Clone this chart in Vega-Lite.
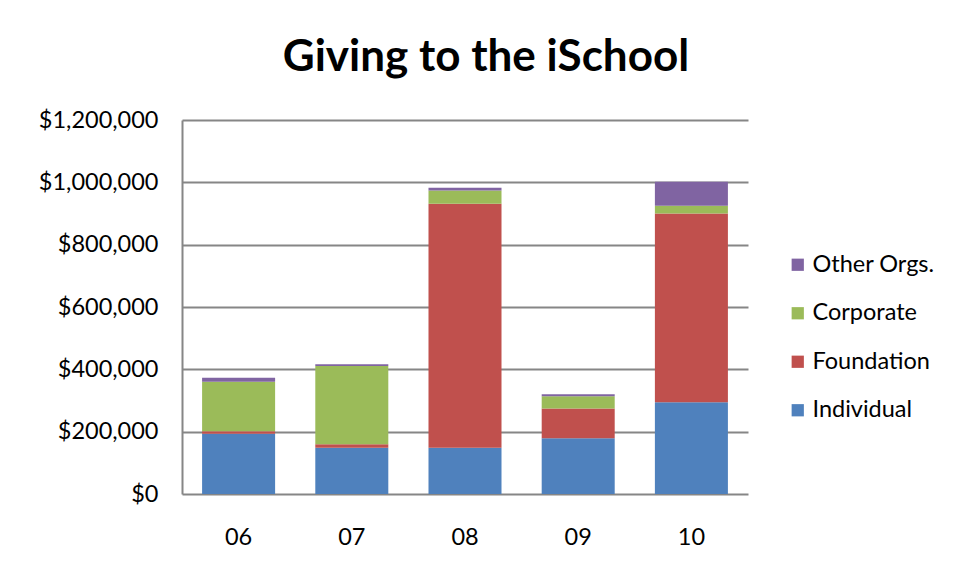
{
  "$schema": "https://vega.github.io/schema/vega-lite/v6.json",
  "width": 566,
  "height": 374,
  "autosize": {"type": "none"},
  "padding": {"left": 182, "top": 120, "right": 207, "bottom": 83},
  "background": "white",
  "title": {
    "text": "Giving to the iSchool",
    "font": "Lato",
    "fontSize": 44,
    "fontWeight": "bold",
    "color": "black",
    "anchor": "middle",
    "dx": 21,
    "offset": 28
  },
  "data": {
    "values": [
      {"year": "06", "type": "Individual", "ord": 1, "amount": 193000},
      {"year": "06", "type": "Foundation", "ord": 2, "amount": 8000},
      {"year": "06", "type": "Corporate", "ord": 3, "amount": 159000},
      {"year": "06", "type": "Other Orgs.", "ord": 4, "amount": 13000},
      {"year": "07", "type": "Individual", "ord": 1, "amount": 148000},
      {"year": "07", "type": "Foundation", "ord": 2, "amount": 12000},
      {"year": "07", "type": "Corporate", "ord": 3, "amount": 251000},
      {"year": "07", "type": "Other Orgs.", "ord": 4, "amount": 5000},
      {"year": "08", "type": "Individual", "ord": 1, "amount": 148000},
      {"year": "08", "type": "Foundation", "ord": 2, "amount": 783000},
      {"year": "08", "type": "Corporate", "ord": 3, "amount": 43000},
      {"year": "08", "type": "Other Orgs.", "ord": 4, "amount": 9000},
      {"year": "09", "type": "Individual", "ord": 1, "amount": 179000},
      {"year": "09", "type": "Foundation", "ord": 2, "amount": 95000},
      {"year": "09", "type": "Corporate", "ord": 3, "amount": 40000},
      {"year": "09", "type": "Other Orgs.", "ord": 4, "amount": 6000},
      {"year": "10", "type": "Individual", "ord": 1, "amount": 294000},
      {"year": "10", "type": "Foundation", "ord": 2, "amount": 606000},
      {"year": "10", "type": "Corporate", "ord": 3, "amount": 25000},
      {"year": "10", "type": "Other Orgs.", "ord": 4, "amount": 77000}
    ]
  },
  "mark": {"type": "bar"},
  "encoding": {
    "x": {
      "field": "year",
      "type": "ordinal",
      "scale": {"paddingInner": 0.355, "paddingOuter": 0.1775},
      "axis": {
        "title": null,
        "labelAngle": 0,
        "labelFont": "Lato",
        "labelFontSize": 23.5,
        "labelColor": "black",
        "labelPadding": 31,
        "ticks": false,
        "domain": false
      }
    },
    "y": {
      "field": "amount",
      "type": "quantitative",
      "stack": "zero",
      "scale": {"domain": [0, 1200000], "nice": false},
      "axis": {
        "title": null,
        "values": [0, 200000, 400000, 600000, 800000, 1000000, 1200000],
        "format": "$,.0f",
        "labelFont": "Lato",
        "labelFontSize": 23.5,
        "labelColor": "black",
        "labelPadding": 24,
        "ticks": false,
        "domain": true,
        "domainColor": "#868686",
        "domainWidth": 2,
        "grid": true,
        "gridColor": "#868686",
        "gridWidth": 2
      }
    },
    "color": {
      "field": "type",
      "type": "nominal",
      "scale": {
        "domain": ["Other Orgs.", "Corporate", "Foundation", "Individual"],
        "range": ["#8064A2", "#9BBB59", "#C0504D", "#4F81BD"]
      },
      "legend": {
        "title": null,
        "orient": "none",
        "legendX": 604,
        "legendY": 133,
        "symbolType": "square",
        "symbolSize": 150,
        "symbolStrokeWidth": 0,
        "labelFont": "Lato",
        "labelFontSize": 23.5,
        "labelColor": "black",
        "labelOffset": 3,
        "rowPadding": 23.5
      }
    },
    "order": {"field": "ord", "type": "quantitative"}
  },
  "config": {
    "view": {"stroke": null}
  }
}
